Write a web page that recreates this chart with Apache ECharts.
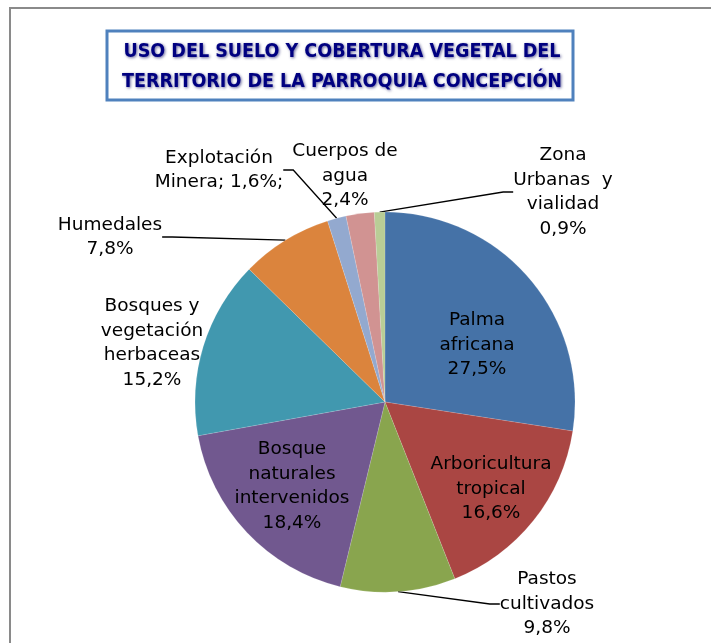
<!DOCTYPE html>
<html>
<head>
    <meta charset="utf-8" />
    <title>Uso del suelo - Parroquia Concepción</title>
    <script src="https://cdn.jsdelivr.net/npm/echarts@6/dist/echarts.min.js"></script>
    <style type="text/css">
        * { margin: 0; padding: 0; }
        html, body { width: 100%; height: 100%; background: #fff; }
        #chart { width: 711px; height: 643px; }
    </style>
</head>
<body>
    <div id="chart"></div>
</body>
</html>
<script type="text/javascript">
    // datos
    var categorias = [
        'Palma\nafricana',
        'Arboricultura\ntropical',
        'Pastos\ncultivados',
        'Bosque\nnaturales\nintervenidos',
        'Bosques y\nvegetación\nherbaceas',
        'Humedales',
        'Explotación\nMinera',
        'Cuerpos de\nagua',
        'Zona\nUrbanas  y\nvialidad'
    ];
    var porcentajes = [27.5, 16.6, 9.8, 18.4, 15.2, 7.8, 1.6, 2.4, 0.9];
    var colores = ['#4572A7', '#AA4643', '#89A54E', '#71588F', '#4198AF', '#DB843D', '#93A9CF', '#D19392', '#B9CD96'];

    // posición de las etiquetas (centro del bloque de texto)
    var posEtiquetas = [[477, 345], [491, 489], [547, 604], [292, 486], [152, 343], [110, 237], [219, 170], [345, 176], [563, 192]];
    var dentro = [true, true, false, true, false, false, false, false, false];
    var sinLinea = [false, false, false, false, true, false, false, true, false];

    var myChart = echarts.init(document.getElementById('chart'));

    var datos = porcentajes.map(function (v, i) {
        return {
            name: categorias[i],
            value: v,
            itemStyle: { color: colores[i] },
            label: { position: dentro[i] ? 'inside' : 'outside' },
            labelLine: { show: !dentro[i] && !sinLinea[i] }
        };
    });

    function fmt(v) {
        return v.toFixed(1).replace('.', ',') + '%';
    }

    var fuenteTitulo = 'bold 19.5px "DejaVu Sans Condensed", "DejaVu Sans", sans-serif';

    var option = {
        backgroundColor: '#fff',
        animation: false,
        graphic: [
            {
                type: 'polyline',
                shape: { points: [[10, 643], [10, 8], [711, 8]] },
                style: { stroke: '#8a8a8a', lineWidth: 2, fill: null }
            },
            {
                type: 'rect',
                shape: { x: 107, y: 31, width: 466, height: 69 },
                style: { stroke: '#4F81BD', lineWidth: 3, fill: '#fff' }
            },
            {
                type: 'text',
                x: 342, y: 52,
                style: {
                    text: 'USO DEL SUELO Y COBERTURA VEGETAL DEL',
                    fill: '#000080',
                    font: fuenteTitulo,
                    textAlign: 'center', textVerticalAlign: 'middle',
                    textShadowColor: 'rgba(0,0,90,0.6)', textShadowBlur: 3,
                    textShadowOffsetX: 1, textShadowOffsetY: 1
                }
            },
            {
                type: 'text',
                x: 342, y: 82,
                style: {
                    text: 'TERRITORIO DE LA PARROQUIA CONCEPCIÓN',
                    fill: '#000080',
                    font: fuenteTitulo,
                    textAlign: 'center', textVerticalAlign: 'middle',
                    textShadowColor: 'rgba(0,0,90,0.6)', textShadowBlur: 3,
                    textShadowOffsetX: 1, textShadowOffsetY: 1
                }
            }
        ],
        series: [{
            type: 'pie',
            center: [385, 402],
            radius: 190,
            startAngle: 90,
            clockwise: true,
            avoidLabelOverlap: false,
            data: datos,
            itemStyle: { borderColor: 'rgba(255,255,255,0.25)', borderWidth: 0.5 },
            label: {
                color: '#000',
                fontFamily: '"DejaVu Sans", sans-serif',
                fontSize: 18.5,
                lineHeight: 24.5,
                align: 'center',
                formatter: function (p) {
                    if (p.dataIndex === 6) return p.name + '; ' + fmt(p.value) + ';';
                    return p.name + '\n' + fmt(p.value);
                }
            },
            labelLine: {
                length: 10,
                length2: 10,
                smooth: false,
                lineStyle: { color: '#000', width: 1.3 }
            },
            labelLayout: function (params) {
                var p = posEtiquetas[params.dataIndex];
                return { x: p[0], y: p[1], align: 'center', verticalAlign: 'middle' };
            },
            emphasis: { disabled: true }
        }]
    };

    myChart.setOption(option);
</script>
